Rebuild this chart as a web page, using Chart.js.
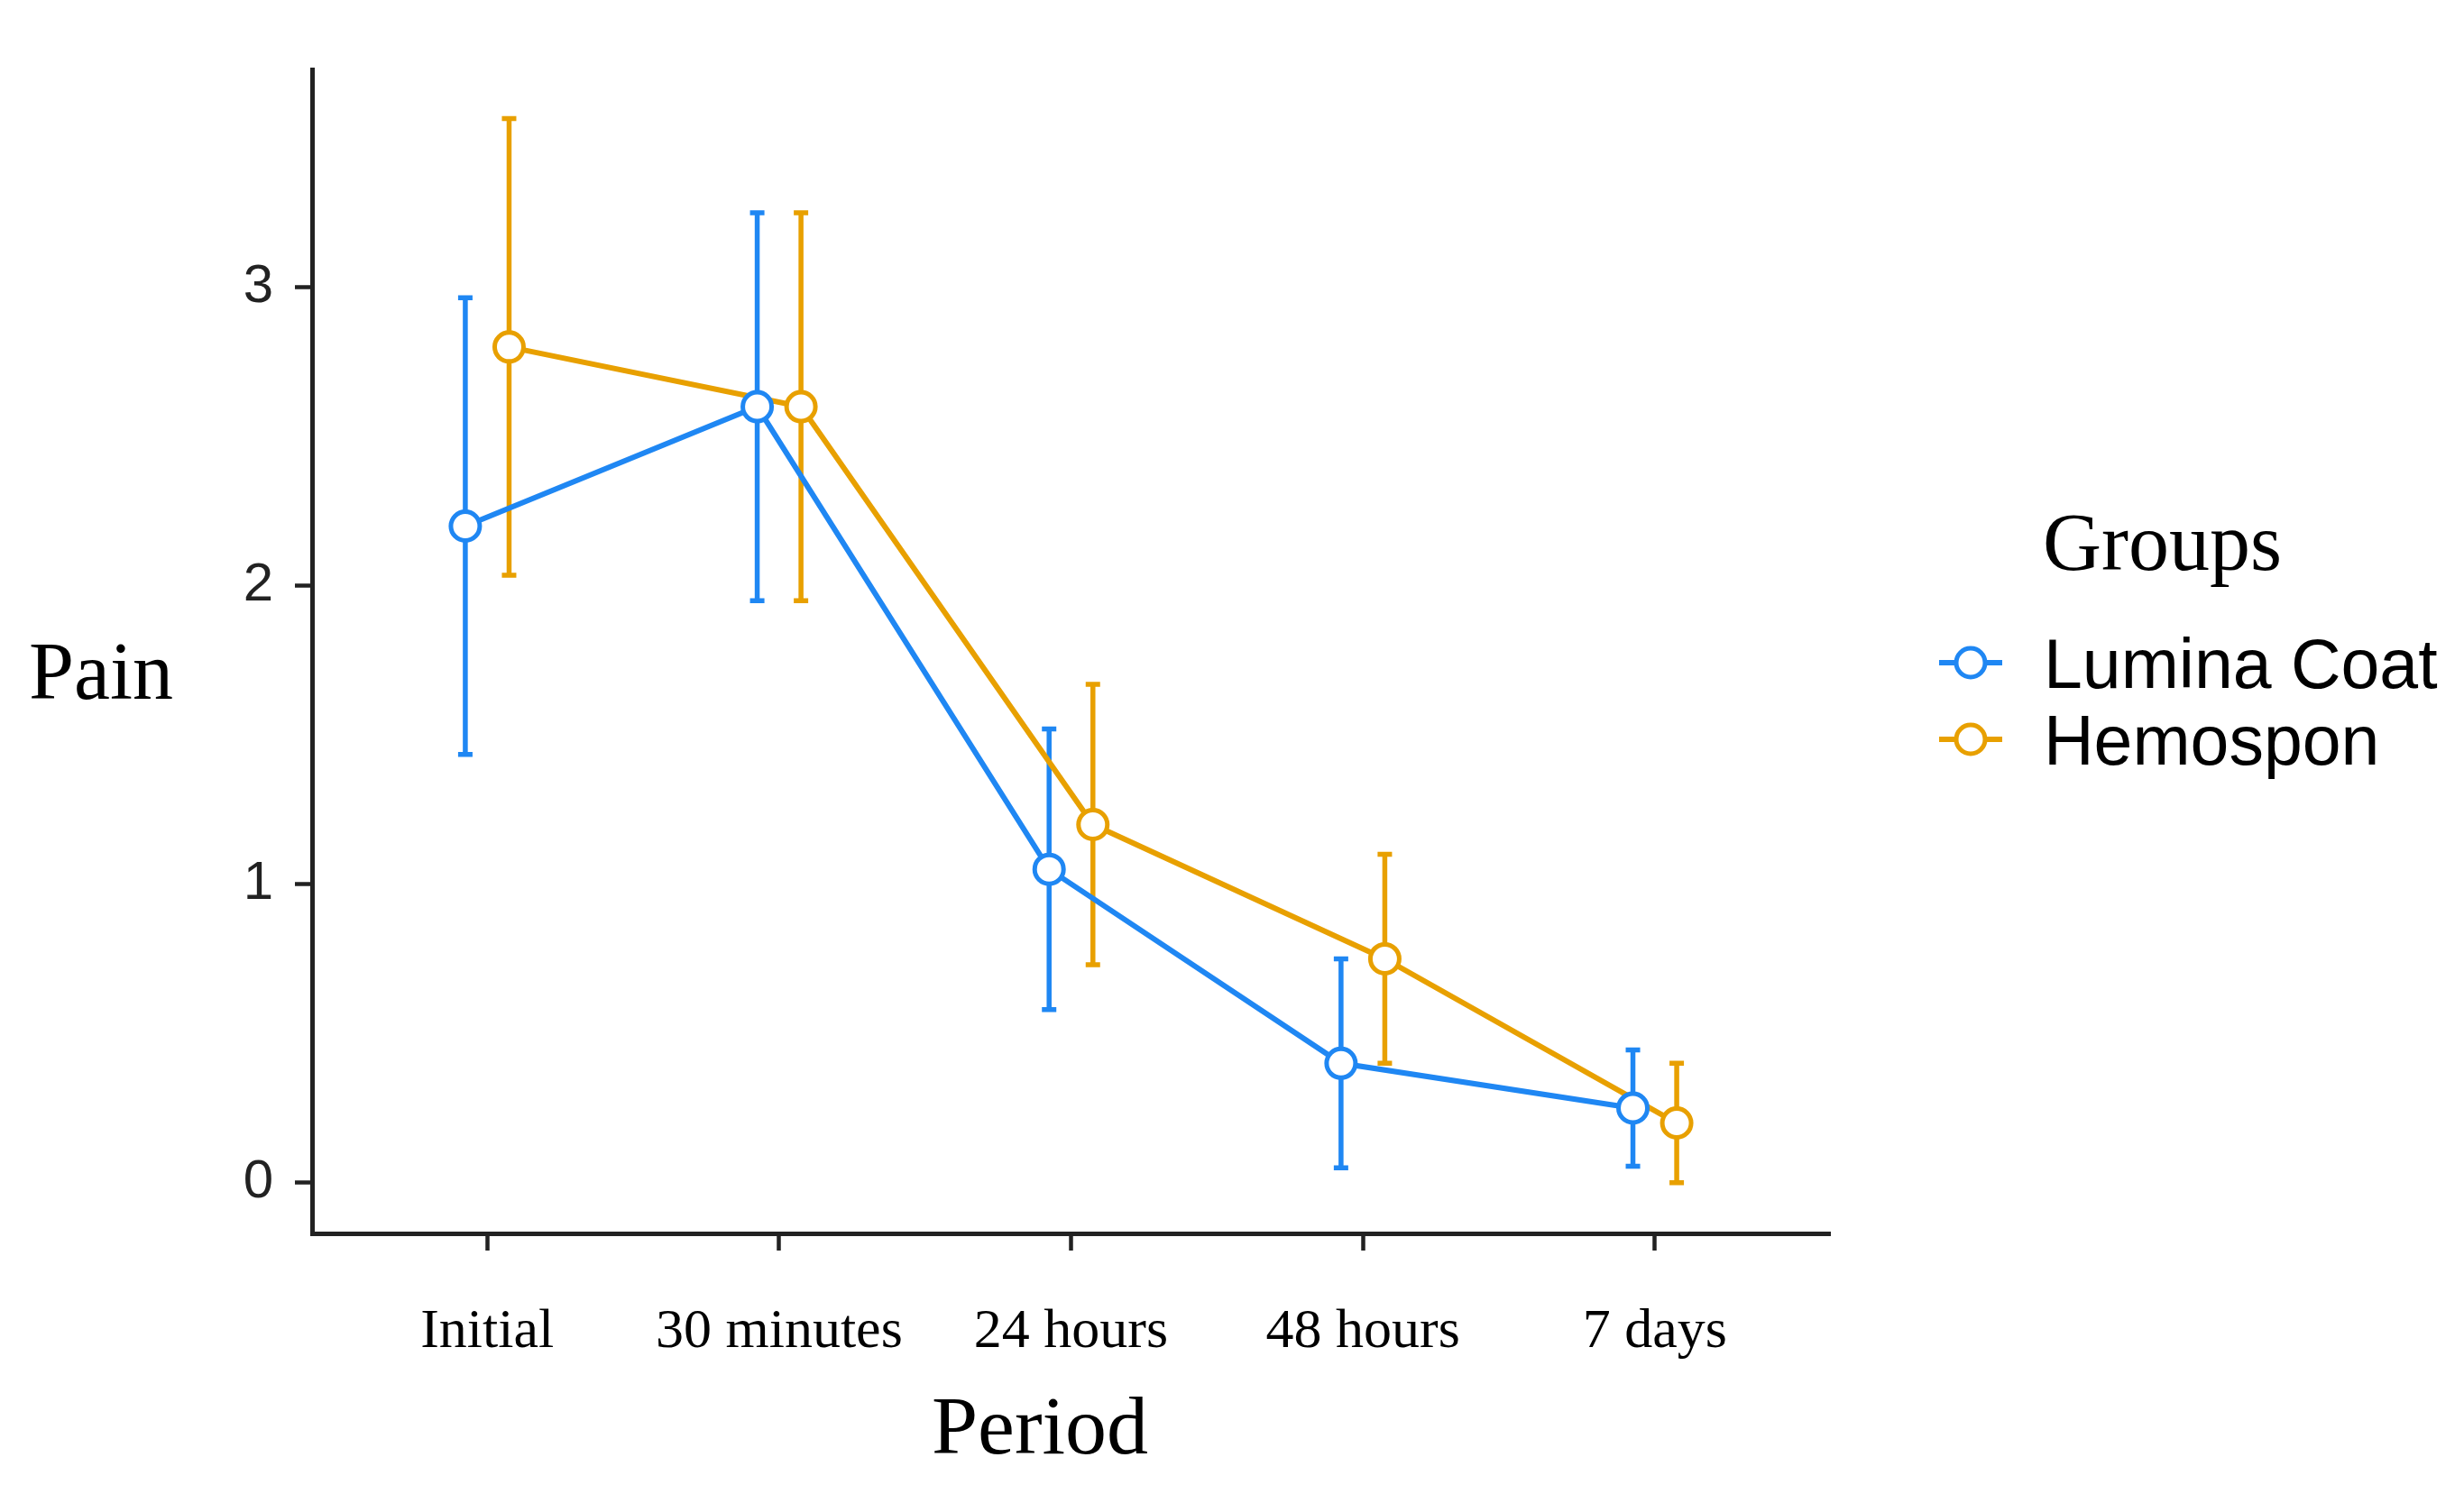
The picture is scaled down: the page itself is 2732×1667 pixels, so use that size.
<!DOCTYPE html>
<html>
<head>
<meta charset="utf-8">
<title>Pain by period</title>
<script src="https://cdn.jsdelivr.net/npm/chart.js@4"></script>
<style>
  html, body { margin: 0; padding: 0; background: #fff; }
  canvas { display: block; }
</style>
</head>
<body>
<canvas id="painChart" width="2732" height="1667"></canvas>
<script>
// Values
const periods = ['Initial', '30 minutes', '24 hours', '48 hours', '7 days'];
const groupNames = ['Lumina Coat', 'Hemospon'];
const luminaMean = [2.2, 2.6, 1.05, 0.4, 0.25];
const luminaErr = [0.765, 0.65, 0.47, 0.35, 0.195];
const hemosponMean = [2.8, 2.6, 1.2, 0.75, 0.2];
const hemosponErr = [0.765, 0.65, 0.47, 0.35, 0.2];
const yTicks = [0, 1, 2, 3];

const blue = '#1f87f3';
const orange = '#e8a000';
const axisColor = '#222222';
const dodge = 0.075;  // groups are shifted a little left / right of each period

function points(means, errs, shift) {
    return means.map(function (m, i) {
        return { x: i + 1 + shift, y: m, err: errs[i] };
    });
}

// Draw error bars (with small caps) under the lines and points
const errorBars = {
    id: 'errorBars',
    beforeDatasetsDraw: function (chart) {
        let ctx = chart.ctx;
        let yScale = chart.scales.y;
        chart.data.datasets.forEach(function (ds, di) {
            let meta = chart.getDatasetMeta(di);
            ctx.save();
            ctx.strokeStyle = ds.borderColor;
            ctx.lineWidth = 5.5;
            meta.data.forEach(function (pt, i) {
                let d = ds.data[i];
                let top = yScale.getPixelForValue(d.y + d.err);
                let bottom = yScale.getPixelForValue(d.y - d.err);
                ctx.beginPath();
                ctx.moveTo(pt.x, top);
                ctx.lineTo(pt.x, bottom);
                ctx.moveTo(pt.x - 8, top);
                ctx.lineTo(pt.x + 8, top);
                ctx.moveTo(pt.x - 8, bottom);
                ctx.lineTo(pt.x + 8, bottom);
                ctx.stroke();
            });
            ctx.restore();
        });
    }
};

// Axis titles and the "Groups" legend, placed like the original figure
const decorations = {
    id: 'decorations',
    afterDraw: function (chart) {
        let ctx = chart.ctx;
        ctx.save();
        ctx.fillStyle = '#000';
        ctx.textBaseline = 'alphabetic';
        ctx.font = '90px "Liberation Serif", serif';
        ctx.textAlign = 'left';
        ctx.fillText('Pain', 32, 775);
        ctx.fillText('Groups', 2265, 632);
        ctx.textAlign = 'center';
        ctx.font = '92px "Liberation Serif", serif';
        ctx.fillText('Period', 1153, 1612);

        // legend entries
        chart.data.datasets.forEach(function (ds, i) {
            let cy = 735 + i * 85;
            ctx.strokeStyle = ds.borderColor;
            ctx.lineWidth = 6;
            ctx.beginPath();
            ctx.moveTo(2150, cy);
            ctx.lineTo(2220, cy);
            ctx.stroke();
            ctx.beginPath();
            ctx.arc(2185, cy, 16, 0, Math.PI * 2);
            ctx.fillStyle = '#fff';
            ctx.fill();
            ctx.lineWidth = 5;
            ctx.stroke();
            ctx.fillStyle = '#000';
            ctx.textAlign = 'left';
            ctx.font = '77px "Liberation Sans", Arial, sans-serif';
            ctx.fillText(ds.label, 2266, cy + 28);
        });
        ctx.restore();
    }
};

let ctx = document.getElementById('painChart').getContext('2d');

let myChart = new Chart(ctx, {
    type: 'line',
    data: {
        datasets: [{
            label: groupNames[0],
            data: points(luminaMean, luminaErr, -dodge),
            borderColor: blue,
            backgroundColor: '#fff',
            borderWidth: 6,
            pointRadius: 16,
            pointBorderWidth: 5,
            pointBackgroundColor: '#fff',
            pointBorderColor: blue,
            tension: 0
        }, {
            label: groupNames[1],
            data: points(hemosponMean, hemosponErr, dodge),
            borderColor: orange,
            backgroundColor: '#fff',
            borderWidth: 6,
            pointRadius: 16,
            pointBorderWidth: 5,
            pointBackgroundColor: '#fff',
            pointBorderColor: orange,
            tension: 0
        }]
    },
    options: {
        responsive: false,
        animation: false,
        devicePixelRatio: 1,
        layout: {
            padding: { left: 0, top: 77, right: 703, bottom: 99 }
        },
        plugins: {
            legend: { display: false },
            tooltip: { enabled: false }
        },
        scales: {
            x: {
                type: 'linear',
                min: 0.4,
                max: 5.6,
                afterBuildTicks: function (scale) {
                    scale.ticks = periods.map(function (p, i) { return { value: i + 1 }; });
                },
                afterFit: function (scale) { scale.height = 200; },
                ticks: {
                    callback: function (value, index) { return periods[index]; },
                    maxRotation: 0,
                    autoSkip: false,
                    padding: 54,
                    color: '#000',
                    font: { family: '"Liberation Serif", serif', size: 62 }
                },
                grid: {
                    drawOnChartArea: false,
                    drawTicks: true,
                    tickLength: 19,
                    tickWidth: 4.5,
                    tickColor: axisColor
                },
                border: { display: true, color: axisColor, width: 5 }
            },
            y: {
                min: -0.17,
                max: 3.73,
                afterBuildTicks: function (scale) {
                    scale.ticks = yTicks.map(function (v) { return { value: v }; });
                },
                afterFit: function (scale) { scale.width = 346; },
                ticks: {
                    padding: 24,
                    color: '#222',
                    font: { family: '"Liberation Sans", Arial, sans-serif', size: 60 }
                },
                grid: {
                    drawOnChartArea: false,
                    drawTicks: true,
                    tickLength: 19,
                    tickWidth: 4.5,
                    tickColor: axisColor
                },
                border: { display: true, color: axisColor, width: 5 }
            }
        }
    },
    plugins: [errorBars, decorations]
});
</script>
</body>
</html>
